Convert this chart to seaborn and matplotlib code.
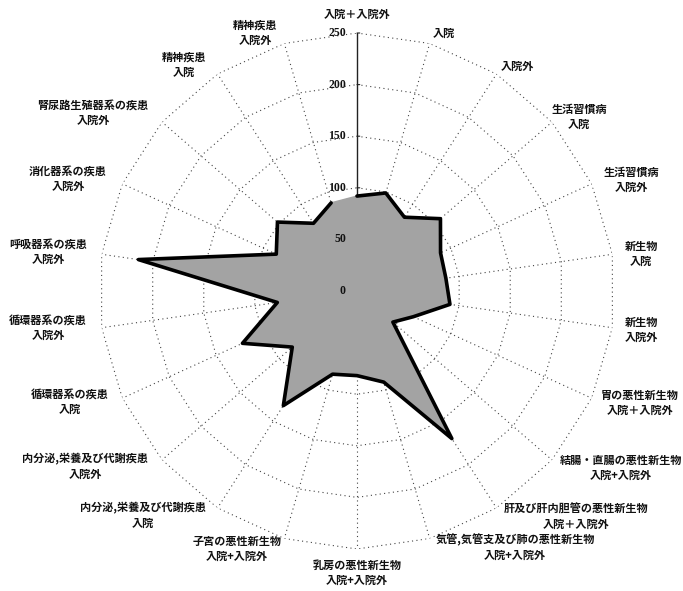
import numpy as np
import pandas as pd
import seaborn as sns
import matplotlib.pyplot as plt

# Data (clockwise from top)
categories = [
    '入院＋入院外',
    '入院',
    '入院外',
    '生活習慣病\n入院',
    '生活習慣病\n入院外',
    '新生物\n入院',
    '新生物\n入院外',
    '胃の悪性新生物\n入院＋入院外',
    '結腸・直腸の悪性新生物\n入院+入院外',
    '肝及び肝内胆管の悪性新生物\n入院＋入院外',
    '気管,気管支及び肺の悪性新生物\n入院+入院外',
    '乳房の悪性新生物\n入院+入院外',
    '子宮の悪性新生物\n入院+入院外',
    '内分泌,栄養及び代謝疾患\n入院',
    '内分泌,栄養及び代謝疾患\n入院外',
    '循環器系の疾患\n入院',
    '循環器系の疾患\n入院外',
    '呼吸器系の疾患\n入院外',
    '消化器系の疾患\n入院外',
    '腎尿路生殖器系の疾患\n入院外',
    '精神疾患\n入院',
    '精神疾患\n入院外',
]
values = [92, 99, 85, 107, 89, 87, 91, 60, 46, 170, 92,
          82, 84, 132, 83, 122, 78, 214, 86, 102, 78, 89]
ring_values = [50, 100, 150, 200, 250]
rtick_values = [0, 50, 100, 150, 200, 250]
rtick_labels = ['0', '50', '100', '150', '200', '250']

# label centres in pixels (x, y from top)
label_px = [(357, 14), (444, 33), (517, 66), (579, 117), (631, 180),
            (641, 254), (641, 330), (640, 403), (621, 468), (576, 517),
            (515, 548), (357, 573), (237, 549), (143, 516), (85, 467),
            (70, 402), (48, 328), (48, 252), (68, 179), (93, 113),
            (184, 65), (255, 33)]

sns.set_theme(style='white')
plt.rcParams['font.family'] = ['Noto Sans CJK JP', 'DejaVu Sans']

W, H = 683, 591
n = len(categories)
angles = np.linspace(0, 2 * np.pi, n, endpoint=False)
closed = np.append(angles, angles[0])
df = pd.DataFrame({'angle': closed, 'value': values + values[:1]})

fig = plt.figure(figsize=(W / 100, H / 100), dpi=100)
cx, cy, R = 357, 291, 258
ax = fig.add_axes([(cx - R) / W, (H - cy - R) / H, 2 * R / W, 2 * R / H],
                  projection='polar')
ax.set_theta_zero_location('N')
ax.set_theta_direction(-1)
ax.grid(False)
ax.spines['polar'].set_visible(False)
ax.set_facecolor('none')

# polygon grid
for rv in ring_values:
    ax.plot(closed, [rv] * (n + 1), color='#444444', lw=0.8,
            ls=(0, (1, 3)), zorder=1)
for i, a in enumerate(angles):
    if i == 0:
        ax.plot([a, a], [0, 250], color='#222222', lw=1.0, zorder=2)
    else:
        ax.plot([a, a], [0, 250], color='#444444', lw=0.8,
                ls=(0, (1, 3)), zorder=1)

# series
ax.fill(df['angle'], df['value'], color='#a3a3a3', zorder=3)
sns.lineplot(data=df, x='angle', y='value', sort=False, color='black',
             lw=2.6, ax=ax, zorder=4)

ax.set_xlabel('')
ax.set_ylabel('')
ax.set_xticks([])
ax.set_yticks([])
ax.set_ylim(0, 250)

# value axis labels and ticks
for rv, lab in zip(rtick_values, rtick_labels):
    ax.annotate(lab, xy=(0, rv), xytext=(-8, 0), textcoords='offset points',
                ha='right', va='center', fontsize=8.5, fontweight='bold',
                family='Liberation Serif', color='#111111', zorder=6)
    ax.annotate('', xy=(0, rv), xytext=(4, 0), textcoords='offset points',
                arrowprops=dict(arrowstyle='-', color='#222222', lw=0.8),
                zorder=2)

# category labels
for lab, (px, py) in zip(categories, label_px):
    fig.text(px / W, 1 - py / H, lab, ha='center', va='center',
             multialignment='center', fontsize=8, fontweight='bold',
             color='#111111', linespacing=1.25)

fig.savefig('out.png', dpi=100, facecolor='white')
